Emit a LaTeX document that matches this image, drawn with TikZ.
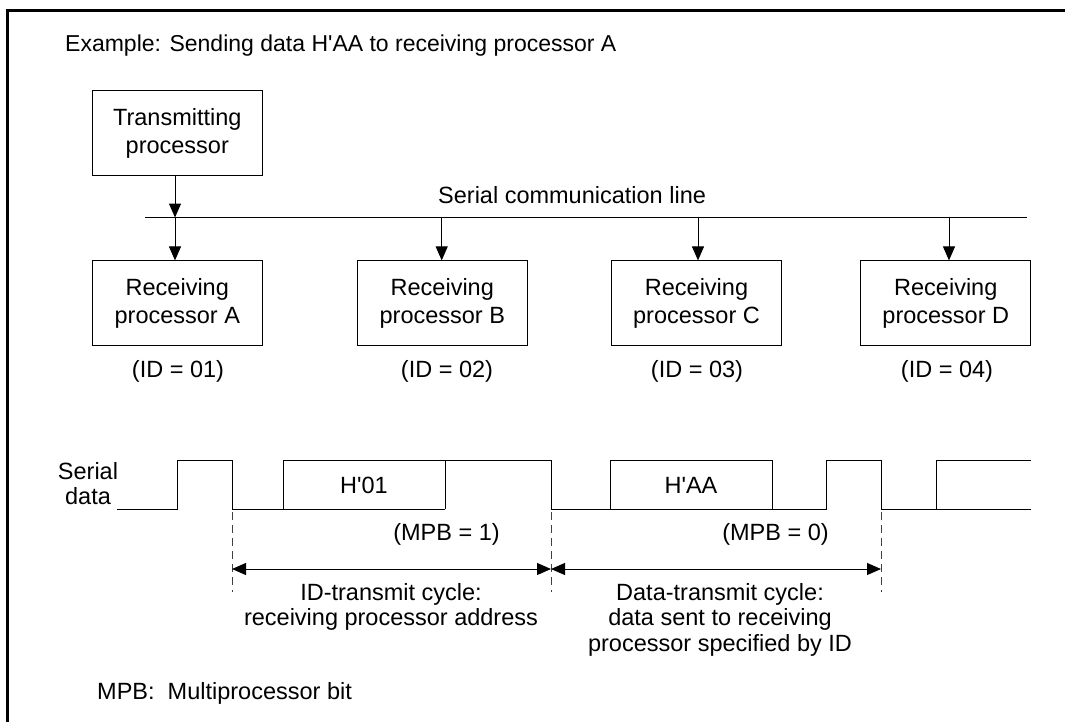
\documentclass[tikz,border=0pt]{standalone}
\usepackage{fontspec}
\setmainfont{Liberation Sans}[Ligatures=TeXOff]
\usetikzlibrary{arrows.meta}
\begin{document}
\begin{tikzpicture}[x=1pt,y=-1pt,
  every node/.style={font=\fontsize{23.5}{27.5}\selectfont, inner sep=0pt},
  procbox/.style={draw, line width=1pt, minimum width=170pt, minimum height=85pt, align=center},
  arr/.style={line width=1pt, -{Triangle[length=14pt,width=12pt]}},
  dbl/.style={line width=1pt, {Triangle[length=14pt,width=12pt]}-{Triangle[length=14pt,width=12pt]}},
  wave/.style={line width=1pt},
  guide/.style={line width=1pt, dash pattern=on 8pt off 5pt, black!75},
  cyc/.style={align=center, font=\fontsize{23.5}{25.5}\selectfont}]
\clip (0,0) rectangle (1065,721);
\fill[white] (0,0) rectangle (1065,721);
% frame (right and bottom edges lie outside the picture)
\draw[line width=2.5pt] (7.5,760) -- (7.5,10.5) -- (1090,10.5);

\node[anchor=base west, font=\fontsize{23}{27}\selectfont] (title) at (65,51) {Example: Sending data H'AA to receiving processor A};

% processors
\node[procbox] (tx) at (177.3,133.2) {Transmitting\\processor};
\node[procbox] (rA) at (177.3,303.4) {Receiving\\processor A};
\node[procbox] (rB) at (442.3,303.4) {Receiving\\processor B};
\node[procbox] (rC) at (696.5,303.4) {Receiving\\processor C};
\node[procbox] (rD) at (945.8,303.4) {Receiving\\processor D};

% bus
\coordinate (busL) at (145,217.5);
\coordinate (busR) at (1027,217.5);
\draw[line width=1pt] (busL) -- (busR);
\node[anchor=base west] (busname) at (438,203) {Serial communication line};
\coordinate (jA) at (175,217.5);
\coordinate (jB) at (441.7,217.5);
\coordinate (jC) at (698,217.5);
\coordinate (jD) at (949,217.5);
\draw[arr] (tx.south -| jA) -- (jA);
\draw[arr] (jA) -- (jA |- rA.north);
\draw[arr] (jB) -- (jB |- rB.north);
\draw[arr] (jC) -- (jC |- rC.north);
\draw[arr] (jD) -- (jD |- rD.north);

% IDs
\node[anchor=base] (idA) at (178,377) {(ID = 01)};
\node[anchor=base] (idB) at (447,377) {(ID = 02)};
\node[anchor=base] (idC) at (697,377) {(ID = 03)};
\node[anchor=base] (idD) at (947,377) {(ID = 04)};

% serial data waveform
\node[align=center, font=\fontsize{23.5}{25}\selectfont] (sd) at (88,484) {Serial\\data};
\draw[wave] (117,509) -- (177,509) -- (177,460) -- (232,460) -- (232,509) -- (445,509);
\draw[wave] (283,509) -- (283,460) -- (551,460) -- (551,509) -- (826,509) -- (826,460) -- (881,460) -- (881,509) -- (1031,509);
\draw[wave] (445,460) -- (445,509);
\draw[wave] (610,509) -- (610,460) -- (772,460) -- (772,509);
\draw[wave] (936,509) -- (936,460) -- (1031,460);
\node[anchor=base] (b1) at (364,493) {H'01};
\node[anchor=base] (b2) at (691,493) {H'AA};
\node[anchor=base] (m1) at (446.5,540) {(MPB = 1)};
\node[anchor=base] (m2) at (775.5,540) {(MPB = 0)};

% cycle markers
\coordinate (e1) at (232,512);
\coordinate (e2) at (551,512);
\coordinate (e3) at (881,512);
\coordinate (d1) at (232,592);
\coordinate (d2) at (551,592);
\coordinate (d3) at (881,592);
\draw[guide] (e1) -- (d1);
\draw[guide] (e2) -- (d2);
\draw[guide] (e3) -- (d3);
\coordinate (a1) at (232,569);
\coordinate (a2) at (551,569);
\coordinate (a3) at (881,569);
\draw[dbl] (a1) -- (a2);
\draw[dbl] (a2) -- (a3);
\node[cyc] (c1) at (391,607) {ID-transmit cycle:\\receiving processor address};
\node[cyc] (c2) at (720,619.6) {Data-transmit cycle:\\data sent to receiving\\processor specified by ID};

\node[anchor=base west] (mpb) at (97,699) {MPB:\ \ Multiprocessor bit};
\end{tikzpicture}
\end{document}
